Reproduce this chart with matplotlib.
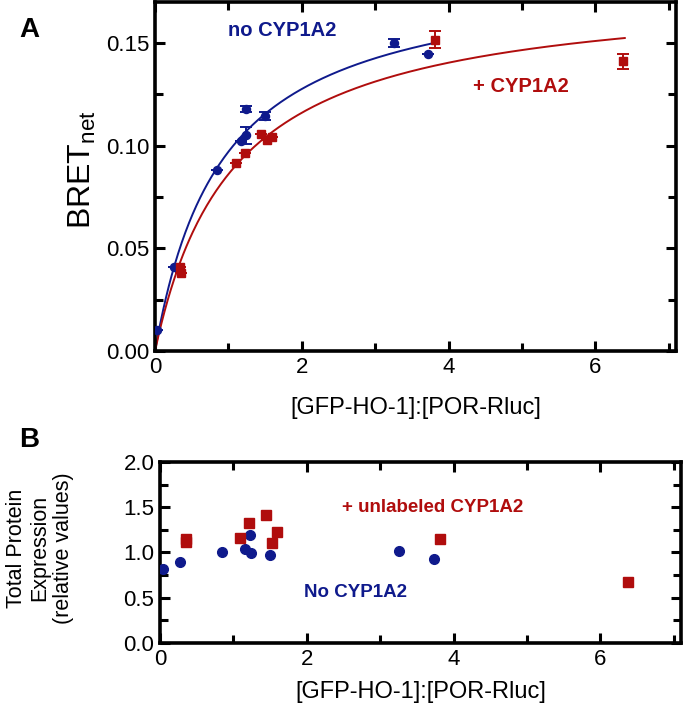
import numpy as np
import matplotlib
matplotlib.use("Agg")
import matplotlib.pyplot as plt

plt.rcParams['font.family'] = ['Liberation Sans', 'DejaVu Sans']

BLUE = '#0f1a8c'
RED = '#b00d0d'

# Panel A data
a_blue_x = [0.02, 0.26, 0.85, 1.17, 1.24, 1.24, 1.50, 3.25, 3.72]
a_blue_y = [0.010, 0.041, 0.088, 0.1025, 0.105, 0.118, 0.1146, 0.150, 0.1447]
a_blue_err = [0.0, 0.0, 0.0, 0.0, 0.004, 0.0015, 0.002, 0.002, 0.0]
a_red_x = [0.34, 0.35, 1.10, 1.22, 1.44, 1.53, 1.59, 3.81, 6.38]
a_red_y = [0.041, 0.038, 0.0917, 0.0963, 0.1059, 0.1028, 0.104, 0.1517, 0.1411]
a_red_err = [0.0, 0.0, 0.0, 0.0, 0.0, 0.0, 0.0, 0.004, 0.0035]

# Hyperbolic fit parameters (Bmax, Kd) and fit ranges
blue_fit = (0.1863, 0.919, 3.75)
red_fit = (0.1778, 1.064, 6.40)

# Panel B data
b_blue_x = [0.04, 0.27, 0.85, 1.16, 1.23, 1.24, 1.50, 3.26, 3.73]
b_blue_y = [0.82, 0.90, 1.00, 1.04, 1.19, 0.99, 0.97, 1.02, 0.93]
b_red_x = [0.35, 0.36, 1.09, 1.21, 1.44, 1.53, 1.60, 3.82, 6.38]
b_red_y = [1.15, 1.12, 1.16, 1.33, 1.41, 1.10, 1.23, 1.15, 0.67]

xlabel = '[GFP-HO-1]:[POR-Rluc]'

fig = plt.figure(figsize=(6.83, 7.14), dpi=100)
axA = fig.add_axes([0.227, 0.5084, 0.763, 0.4888])
axB = fig.add_axes([0.2343, 0.0994, 0.7627, 0.2536])

def style(ax):
    for s in ax.spines.values():
        s.set_linewidth(2.6)
    ax.tick_params(which='both', direction='in', top=True, right=True,
                   width=2.2, labelsize=16, pad=4)
    ax.tick_params(which='major', length=7)
    ax.tick_params(which='minor', length=6)

# Panel A
for (bmax, kd, xe), col in ((blue_fit, BLUE), (red_fit, RED)):
    xs = np.linspace(0, xe, 300)
    axA.plot(xs, bmax * xs / (kd + xs), color=col, lw=1.4, zorder=2)
axA.errorbar(a_blue_x, a_blue_y, yerr=a_blue_err, fmt='o', color=BLUE,
             ms=5.8, capsize=4, elinewidth=1.4, capthick=1.4, zorder=3)
axA.errorbar(a_red_x, a_red_y, yerr=a_red_err, fmt='s', color=RED,
             ms=5.8, capsize=4, elinewidth=1.4, capthick=1.4, zorder=3)
axA.set_xlim(0, 7.1)
axA.set_ylim(0, 0.17)
axA.set_xticks([0, 2, 4, 6])
axA.set_xticks([1, 3, 5, 7], minor=True)
axA.set_yticks([0, 0.05, 0.10, 0.15])
axA.set_yticklabels(['0.00', '0.05', '0.10', '0.15'])
axA.set_yticks([0.025, 0.075, 0.125], minor=True)
style(axA)
axA.set_xlabel(xlabel, fontsize=17, labelpad=14)
axA.set_ylabel('BRET$_{\\mathregular{net}}$', fontsize=23)
axA.yaxis.set_label_coords(-0.109, 0.52)
axA.text(1.73, 0.156, 'no CYP1A2', color=BLUE, fontsize=14.5, fontweight='bold',
         ha='center', va='center')
axA.text(4.98, 0.1288, '+ CYP1A2', color=RED, fontsize=14.5, fontweight='bold',
         ha='center', va='center')

# Panel B
axB.plot(b_blue_x, b_blue_y, 'o', color=BLUE, ms=7, zorder=3)
axB.plot(b_red_x, b_red_y, 's', color=RED, ms=7, zorder=3)
axB.set_xlim(0, 7.1)
axB.set_ylim(0, 2.0)
axB.set_xticks([0, 2, 4, 6])
axB.set_xticks([1, 3, 5, 7], minor=True)
axB.set_yticks([0, 0.5, 1.0, 1.5, 2.0])
axB.set_yticklabels(['0.0', '0.5', '1.0', '1.5', '2.0'])
axB.set_yticks([0.25, 0.75, 1.25, 1.75], minor=True)
style(axB)
axB.set_xlabel(xlabel, fontsize=17, labelpad=8)
axB.text(3.72, 1.50, '+ unlabeled CYP1A2', color=RED, fontsize=13.5,
         fontweight='bold', ha='center', va='center')
axB.text(2.67, 0.56, 'No CYP1A2', color=BLUE, fontsize=13.5,
         fontweight='bold', ha='center', va='center')

fig.text(40 / 683, 1 - 548 / 714, 'Total Protein\nExpression\n(relative values)',
         rotation=90, fontsize=15.5, ha='center', va='center', linespacing=1.15)

fig.text(29 / 683, 1 - 30 / 714, 'A', fontsize=20, fontweight='bold',
         ha='center', va='center')
fig.text(29 / 683, 1 - 440 / 714, 'B', fontsize=20, fontweight='bold',
         ha='center', va='center')

fig.savefig('out.png', dpi=100)
